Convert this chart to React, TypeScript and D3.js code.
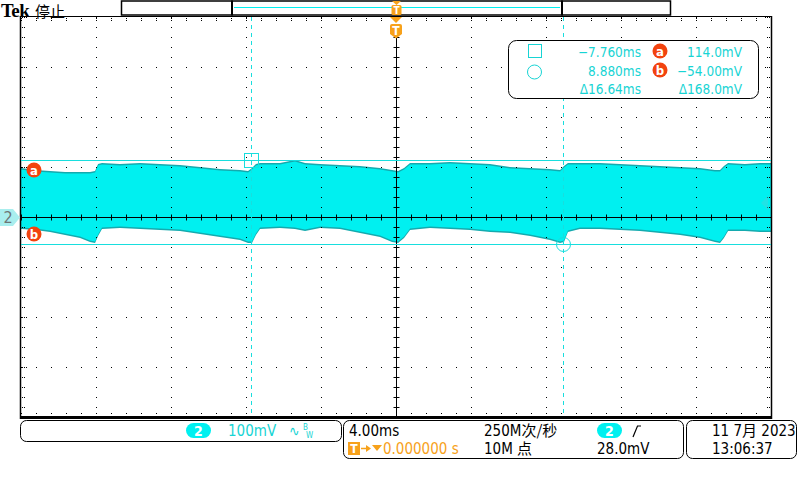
import * as d3 from 'd3';

// envelope of the ch2 trace (time in ms, level in mV)
const timeMs = [
  -20.0, -19.25, -18.45, -17.65, -16.85, -16.32, -16.05, -15.89, -15.68, -14.72,
  -13.65, -12.59, -11.52, -10.45, -9.39, -8.32, -7.89, -7.68, -7.47, -7.25,
  -6.19, -5.39, -4.85, -4.05, -2.99, -1.92, -0.85, -0.21, 0.11, 0.43,
  0.75, 1.81, 2.88, 3.95, 5.01, 6.08, 7.15, 8.21, 8.75, 8.96,
  9.17, 9.81, 10.88, 11.95, 13.01, 14.08, 15.15, 16.21, 17.01, 17.28,
  17.49, 17.71, 18.61, 19.41, 20.0,
];
const topMv = [
  98, 94, 92, 90, 90, 90, 92, 106, 108, 106,
  108, 106, 104, 100, 96, 94, 92, 98, 106, 108,
  108, 114, 108, 106, 104, 102, 98, 94, 92, 98,
  108, 108, 110, 108, 106, 100, 98, 96, 94, 102,
  108, 108, 108, 106, 104, 102, 100, 98, 94, 94,
  102, 108, 106, 108, 108,
];
const bottomMv = [
  -24, -26, -30, -36, -42, -50, -52, -38, -24, -22,
  -24, -26, -28, -34, -40, -46, -52, -52, -36, -24,
  -22, -24, -28, -22, -24, -32, -40, -50, -52, -42,
  -26, -22, -24, -26, -30, -32, -38, -46, -52, -50,
  -30, -24, -24, -26, -28, -32, -36, -42, -50, -52,
  -42, -28, -28, -30, -30,
];

const cursorTimes = [-7.76, 8.88];
const cursorLevels = [114, -54];
const triggerLevel = 28;
const readoutTimes = ['\u22127.760ms', '8.880ms', '\u039416.64ms'];
const readoutLevels = ['114.0mV', '\u221254.00mV', '\u0394168.0mV'];

const CYAN = '#00f0f0';
const CYAN_TXT = '#17d4d4';
const EDGE = '#14aaae';
const ORANGE = '#f7a11a';
const RED = '#f2430f';
const FONT = '"DejaVu Sans Condensed", "DejaVu Sans", sans-serif';
const CJK = '"Noto Sans CJK SC", sans-serif';

function Badge({ cx, cy, ch }: { cx: number; cy: number; ch: string }) {
  return (
    <g>
      <circle cx={cx} cy={cy} r={7.5} fill={RED} />
      <text x={cx} y={cy + 4.5} textAnchor="middle" fill="#fff" fontSize={13} fontWeight="bold" fontFamily={FONT}>
        {ch}
      </text>
    </g>
  );
}

export default function App() {
  const x = d3.scaleLinear().domain([-20, 20]).range([21, 771]);
  const y = d3.scaleLinear().domain([-400, 400]).range([417, 17]);

  const pts = timeMs.map((t, i) => ({ t, hi: topMv[i], lo: bottomMv[i] }));
  const outer = d3
    .area<any>()
    .x((d) => x(d.t))
    .y0((d) => y(d.lo))
    .y1((d) => y(d.hi))(pts);
  const inner = d3
    .area<any>()
    .x((d) => x(d.t))
    .y0((d) => y(d.lo + 3))
    .y1((d) => y(d.hi - 3))(pts);

  const majorT = d3.range(-20, 20.01, 4);
  const minorT = d3.range(0, 51).map((i) => -20 + i * 0.8);
  const majorV = d3.range(-400, 400.1, 100);
  const minorV = d3.range(0, 41).map((i) => -400 + i * 20);

  const dots: any[] = [];
  majorT.filter((t) => t > -20 && t < 20 && t !== 0).forEach((t) => {
    minorV.forEach((v, j) =>
      dots.push(<rect key={`v${t}_${j}`} x={Math.round(x(t))} y={Math.round(y(v))} width={1} height={1} fill="#000" />),
    );
  });
  majorV.filter((v) => v > -400 && v < 400 && v !== 0).forEach((v) => {
    minorT.forEach((t, j) =>
      dots.push(<rect key={`h${v}_${j}`} x={Math.round(x(t))} y={Math.round(y(v))} width={1} height={1} fill="#000" />),
    );
  });
  // edge ticks
  minorV.forEach((v, j) => {
    const yy = Math.round(y(v));
    const n = j % 5 === 0 ? 3 : 2;
    for (let k = 0; k < n; k++) {
      dots.push(<rect key={`l${j}_${k}`} x={22 + k * 2} y={yy} width={1} height={1} fill="#000" />);
      dots.push(<rect key={`r${j}_${k}`} x={769 - k * 2} y={yy} width={1} height={1} fill="#000" />);
    }
  });
  minorT.forEach((t, j) => {
    const xx = Math.round(x(t));
    dots.push(<rect key={`t${j}`} x={xx} y={18} width={1} height={1} fill="#000" />);
    dots.push(<rect key={`t2${j}`} x={xx} y={20} width={1} height={1} fill="#000" />);
    dots.push(<rect key={`b${j}`} x={xx} y={413} width={1} height={1} fill="#000" />);
  });

  const x0 = Math.round(x(0)) + 0.5;
  const y0 = Math.round(y(0)) + 0.5;

  return (
    <svg width={800} height={480} style={{ position: 'absolute', left: 0, top: 0, background: '#fff' }}>
      {/* header */}
      <text x={1} y={17} fontFamily='"Liberation Serif", serif' fontWeight="bold" fontSize={19} letterSpacing={-0.6}>
        Tek
      </text>
      <text x={35} y={17} fontFamily={CJK} fontSize={15}>
        停止
      </text>
      <rect x={121.5} y={1} width={549} height={14} fill="#fff" stroke="#000" strokeWidth={1.5} />
      <rect x={231} y={0.5} width={2} height={15} fill="#000" />
      <rect x={561} y={0.5} width={2} height={15} fill="#000" />
      <line x1={234} x2={560} y1={7.5} y2={7.5} stroke={CYAN} strokeWidth={1} />
      <path d="M392,1 L401,1 L396.5,5 Z" fill={ORANGE} />
      <rect x={391.5} y={5} width={10} height={10} rx={1.5} fill={ORANGE} />
      <text x={396.5} y={14} textAnchor="middle" fill="#fff" fontSize={10} fontWeight="bold" fontFamily={FONT}>
        T
      </text>

      {/* waveform */}
      <path d={outer ?? ''} fill={EDGE} />
      <path d={inner ?? ''} fill={CYAN} />

      {/* graticule */}
      {dots}
      <line x1={21} x2={771} y1={y0} y2={y0} stroke="#000" />
      {minorT.map((t, j) => (
        <line key={`ct${j}`} x1={Math.round(x(t)) + 0.5} x2={Math.round(x(t)) + 0.5} y1={y0 - 3} y2={y0 + 3} stroke="#000" />
      ))}
      <line x1={x0} x2={x0} y1={38} y2={416} stroke="#000" />
      {minorV.map((v, j) => (
        <line key={`cv${j}`} x1={x0 - 3} x2={x0 + 3} y1={Math.round(y(v)) + 0.5} y2={Math.round(y(v)) + 0.5} stroke="#000" />
      ))}
      <line x1={20.5} x2={20.5} y1={16} y2={419} stroke="#000" strokeWidth={1.5} />
      <line x1={771.5} x2={771.5} y1={16} y2={419} stroke="#000" strokeWidth={1.5} />
      <line x1={20} x2={772} y1={16.5} y2={16.5} stroke="#000" />
      <rect x={20} y={416} width={752} height={3} fill="#000" />

      {/* cursors */}
      {cursorLevels.map((v, i) => (
        <line key={`cl${i}`} x1={21} x2={771} y1={Math.round(y(v)) + 0.5} y2={Math.round(y(v)) + 0.5} stroke="#18dede" />
      ))}
      {cursorTimes.map((t, i) => (
        <line
          key={`ctm${i}`}
          x1={Math.round(x(t)) + 0.5}
          x2={Math.round(x(t)) + 0.5}
          y1={17}
          y2={416}
          stroke="#18dede"
          strokeDasharray="4 4"
        />
      ))}
      <rect x={Math.round(x(cursorTimes[0])) - 6.5} y={Math.round(y(cursorLevels[0])) - 6.5} width={14} height={14} fill="none" stroke="#18dede" />
      <circle cx={Math.round(x(cursorTimes[1])) + 0.5} cy={Math.round(y(cursorLevels[1])) + 0.5} r={7} fill="none" stroke="#18dede" />

      {/* trigger marker */}
      <path d={`M 390 17 L 402 17 L 396 23 Z`} fill={ORANGE} />
      <path d={`M 390 26 Q 390 24 392 24 L 400 24 Q 402 24 402 26 L 402 34 L 396 38.5 L 390 34 Z`} fill={ORANGE} />
      <text x={396} y={35} textAnchor="middle" fill="#fff" fontSize={12} fontWeight="bold" fontFamily={FONT}>
        T
      </text>
      <path d={`M 761 ${y(triggerLevel)} L 768 ${y(triggerLevel) - 7} L 768 ${y(triggerLevel) + 7} Z`} fill="#3fd6da" opacity={0.5} />

      {/* left markers */}
      <Badge cx={34} cy={Math.round(y(cursorLevels[0])) + 10} ch="a" />
      <Badge cx={34} cy={Math.round(y(cursorLevels[1])) - 10} ch="b" />
      <path d={`M 0 209 L 13 209 L 20 ${y0} L 13 226 L 0 226 Z`} fill="#a9eeee" />
      <text x={8} y={223} textAnchor="middle" fill="#6d7575" fontSize={16} fontFamily={FONT}>
        2
      </text>

      {/* readout */}
      <rect x={508.5} y={40.5} width={250} height={58} rx={8} fill="#fff" stroke="#000" />
      <rect x={528.5} y={44.5} width={13} height={13} fill="none" stroke={CYAN_TXT} />
      <circle cx={534.5} cy={72} r={7} fill="none" stroke={CYAN_TXT} />
      {readoutTimes.map((s, i) => (
        <text key={`rt${i}`} x={641} y={57 + i * 18.5} textAnchor="end" fill={CYAN_TXT} fontSize={13.5} fontFamily={FONT}>
          {s}
        </text>
      ))}
      {readoutLevels.map((s, i) => (
        <text key={`rl${i}`} x={742} y={57 + i * 18.5} textAnchor="end" fill={CYAN_TXT} fontSize={13.5} fontFamily={FONT}>
          {s}
        </text>
      ))}
      <Badge cx={660} cy={51} ch="a" />
      <Badge cx={660} cy={70} ch="b" />

      {/* status bar */}
      <rect x={20.5} y={420.5} width={321} height={21} rx={6} fill="#fff" stroke="#000" />
      <rect x={186} y={423} width={25} height={15} rx={7.5} fill={CYAN} />
      <text x={198.5} y={436} textAnchor="middle" fill="#fff" fontSize={14} fontWeight="bold" fontFamily={FONT}>
        2
      </text>
      <text x={228} y={436} fill={CYAN_TXT} fontSize={15} fontFamily={FONT}>
        100mV
      </text>
      <text x={289} y={436} fill={CYAN_TXT} fontSize={14} fontFamily={FONT}>
        ∿
      </text>
      <text x={303} y={430} fill={CYAN_TXT} fontSize={8} fontFamily={FONT}>
        B
      </text>
      <text x={306} y={438} fill={CYAN_TXT} fontSize={8} fontFamily={FONT}>
        W
      </text>

      <rect x={343.5} y={420.5} width={340} height={38} rx={6} fill="#fff" stroke="#000" />
      <text x={349} y={436} fontSize={15} fontFamily={FONT}>
        4.00ms
      </text>
      <rect x={348} y={442} width={12} height={13} fill={ORANGE} />
      <text x={354} y={453} textAnchor="middle" fill="#fff" fontSize={12} fontWeight="bold" fontFamily={FONT}>
        T
      </text>
      <line x1={361} x2={369} y1={448.5} y2={448.5} stroke={ORANGE} strokeWidth={1.5} />
      <path d="M 366 445 L 371 448.5 L 366 452 Z" fill={ORANGE} />
      <path d="M 372 445 L 382 445 L 377 451 Z" fill={ORANGE} />
      <text x={383} y={454} fill={ORANGE} fontSize={15} fontFamily={FONT}>
        0.000000 s
      </text>
      <text x={484} y={436} fontSize={15} fontFamily={FONT}>
        250M<tspan fontFamily={CJK}>次/秒</tspan>
      </text>
      <text x={484} y={454} fontSize={15} fontFamily={FONT}>
        10M <tspan fontFamily={CJK}>点</tspan>
      </text>
      <rect x={597} y={423} width={25} height={15} rx={7.5} fill={CYAN} />
      <text x={609.5} y={436} textAnchor="middle" fill="#fff" fontSize={14} fontWeight="bold" fontFamily={FONT}>
        2
      </text>
      <path d="M 633 437 L 637.5 426 L 641 426" fill="none" stroke="#000" strokeWidth={1.2} />
      <text x={597} y={454} fontSize={15} fontFamily={FONT}>
        28.0mV
      </text>

      <rect x={686.5} y={420.5} width={110} height={38} rx={6} fill="#fff" stroke="#000" />
      <text x={712} y={436} fontSize={15} fontFamily={FONT}>
        11 7<tspan fontFamily={CJK}>月</tspan> 2023
      </text>
      <text x={712} y={454} fontSize={15} fontFamily={FONT}>
        13:06:37
      </text>
    </svg>
  );
}
